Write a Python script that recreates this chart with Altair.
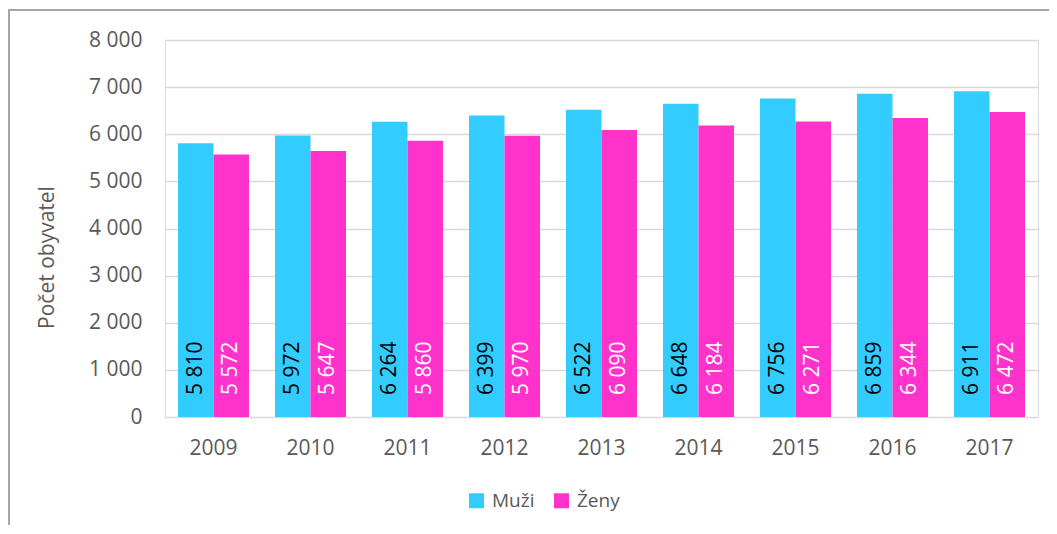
import altair as alt
import pandas as pd

years = ["2009", "2010", "2011", "2012", "2013", "2014", "2015", "2016", "2017"]
muzi = [5810, 5972, 6264, 6399, 6522, 6648, 6756, 6859, 6911]
zeny = [5572, 5647, 5860, 5970, 6090, 6184, 6271, 6344, 6472]
series = ["Muži", "Ženy"]
colors = ["#33CCFF", "#FF33CC"]
label_colors = ["#000000", "#FFFFFF"]
y_ticks = [0, 1000, 2000, 3000, 4000, 5000, 6000, 7000, 8000]

rows = []
for i, y in enumerate(years):
    rows.append({"rok": y, "pohlavi": series[0], "pocet": muzi[i]})
    rows.append({"rok": y, "pohlavi": series[1], "pocet": zeny[i]})
df = pd.DataFrame(rows)

FONT = "Open Sans"
GRAY = "#595959"

x_enc = alt.X("rok:N", sort=years, title=None,
              scale=alt.Scale(paddingInner=0.268, paddingOuter=0.134),
              axis=alt.Axis(labelAngle=0, domain=False, ticks=False,
                            labelFontSize=21, labelColor=GRAY, labelFont=FONT,
                            labelPadding=20))
xo_enc = alt.XOffset("pohlavi:N", sort=series,
                     scale=alt.Scale(paddingInner=0, paddingOuter=0))

bars = alt.Chart(df).mark_bar().encode(
    x=x_enc,
    xOffset=xo_enc,
    y=alt.Y("pocet:Q", title="Počet obyvatel",
            scale=alt.Scale(domain=[0, 8000], nice=False),
            axis=alt.Axis(values=y_ticks,
                          labelExpr="replace(format(datum.value, ','), ',', ' ')",
                          domain=False, ticks=False, grid=True,
                          gridColor="#D9D9D9", gridWidth=1.5,
                          labelFontSize=21, labelColor=GRAY, labelFont=FONT,
                          labelPadding=23,
                          titleFontSize=21, titleFontWeight="normal",
                          titleColor=GRAY, titleFont=FONT,
                          titleX=-118, titleY=217, titleAngle=270,
                          titleAlign="center", titleBaseline="middle")),
    color=alt.Color("pohlavi:N", sort=series,
                    scale=alt.Scale(domain=series, range=colors),
                    legend=alt.Legend(title=None, orient="none",
                                      legendX=302, legendY=451,
                                      direction="horizontal",
                                      symbolType="square", symbolSize=225,
                                      symbolStrokeWidth=0,
                                      labelFontSize=19, labelColor=GRAY,
                                      labelFont=FONT, labelOffset=6,
                                      columnPadding=17, padding=0)),
)

def value_labels(name, col):
    return alt.Chart(df).transform_calculate(
        txt="replace(format(datum.pocet, ','), ',', ' ')"
    ).transform_filter(alt.datum.pohlavi == name).mark_text(
        angle=270, align="left", baseline="middle", dx=22, fontSize=21,
        font=FONT, color=col).encode(
        x=alt.X("rok:N", sort=years),
        xOffset=alt.XOffset("pohlavi:N", sort=series),
        y=alt.datum(0),
        text="txt:N",
    )

labels_black = value_labels(series[0], label_colors[0])
labels_white = value_labels(series[1], label_colors[1])

frame_left = alt.Chart().mark_rule(color="#A6A6A6", strokeWidth=2).encode(
    x=alt.value(-156), y=alt.value(-30), y2=alt.value(520))
frame_top = alt.Chart().mark_rule(color="#A6A6A6", strokeWidth=2).encode(
    x=alt.value(-157), x2=alt.value(900), y=alt.value(-30))

chart = alt.layer(bars, labels_black, labels_white, frame_left, frame_top).properties(
    width=873, height=377,
    autosize=alt.AutoSizeParams(type="none"),
    padding={"left": 157, "top": 32, "right": 11, "bottom": 108},
).configure_view(stroke=None).configure(font=FONT)

chart.save("out.html", embed_options={"renderer": "svg", "actions": False})
